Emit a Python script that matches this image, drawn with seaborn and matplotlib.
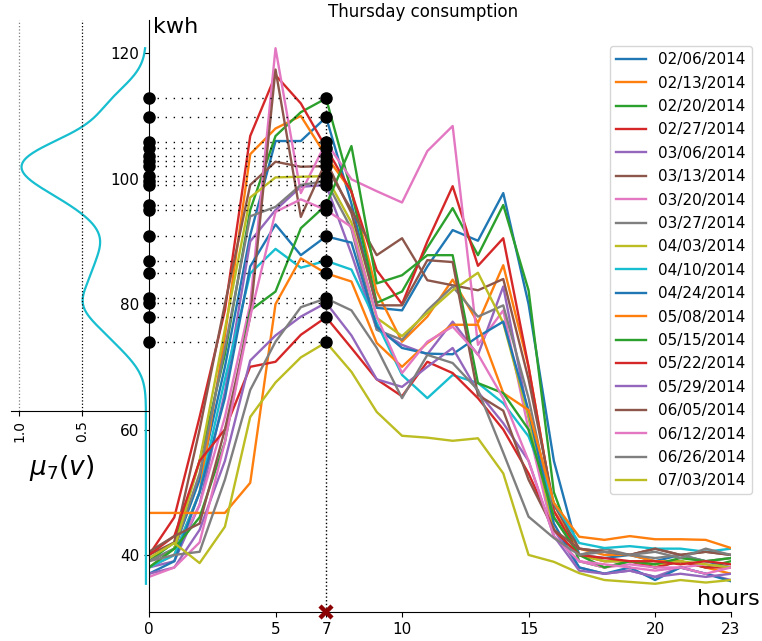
import numpy as np
import pandas as pd
import matplotlib
matplotlib.use("Agg")
import matplotlib.pyplot as plt
import seaborn as sns

hours = list(range(24))
dates = ["02/06/2014", "02/13/2014", "02/20/2014", "02/27/2014", "03/06/2014",
         "03/13/2014", "03/20/2014", "03/27/2014", "04/03/2014", "04/10/2014",
         "04/24/2014", "05/08/2014", "05/15/2014", "05/22/2014", "05/29/2014",
         "06/05/2014", "06/12/2014", "06/26/2014", "07/03/2014"]

d0206 = [39, 41, 52, 70, 91, 106, 106, 109.8, 96, 79.4, 79.0, 86, 91.8, 90.1, 97.7, 80, 55, 40, 39.5, 40, 39, 40, 39, 38]
d0213 = [38, 40, 50, 75, 103.9, 108, 110, 103.6, 98, 82, 74, 78, 83.9, 77, 86.2, 70, 47, 41, 40, 40, 39, 39, 38, 37]
d0220 = [39, 42, 55, 72, 95, 106.8, 110.6, 112.8, 98, 80.2, 82, 89, 95.3, 87.8, 95.8, 82.2, 50, 39, 38, 39, 38, 39, 38, 39]
d0227 = [40, 46, 62, 79, 106.8, 116.5, 112, 104.9, 97.9, 85.4, 80, 90, 98.8, 86.1, 90.5, 70, 47, 40, 39, 39, 38, 39, 38, 38]
d0306 = [38, 39, 48, 66, 90, 95, 98.7, 99.0, 88, 76, 73.5, 72, 77.2, 71.9, 82.8, 62, 44, 38, 37, 37.5, 36.5, 38, 37, 36]
d0313 = [40, 42, 60, 80, 99, 102.7, 101.9, 102.0, 95, 87.8, 90.5, 83.8, 83, 82.2, 84, 68, 48, 41, 40.5, 40, 41, 40, 40.5, 40]
d0320 = [38, 40, 48, 62, 80, 120.8, 97.7, 105.8, 99.9, 98, 96.2, 104.4, 108.4, 73.5, 79, 60, 43, 39, 38, 38.5, 38, 38, 38.5, 38]
d0327 = [39, 41, 53, 73, 94, 95.5, 99, 99.6, 92, 75.9, 74.3, 79, 82.8, 78, 79.8, 65, 46, 40, 41, 40, 39.5, 40, 39, 39.5]
d0403 = [38, 41, 55, 76, 97, 100.2, 100.3, 100.4, 93, 77.8, 74.9, 78.6, 82.2, 85.0, 77, 62, 44, 40, 39, 39, 38.5, 39, 38.5, 38]
d0410 = [38, 40, 50, 68, 84.9, 88.8, 85.8, 86.9, 85.5, 77, 68.7, 65.0, 68.7, 67.4, 64.2, 58.9, 48.3, 41.9, 41.1, 41.4, 41, 41, 40.5, 41]
d0424 = [37, 39, 50, 65, 86, 92.7, 87.8, 90.8, 89.8, 76.4, 73, 72.1, 72.0, 74.8, 77.2, 63, 45, 38, 37, 38, 36, 38, 37, 35.8]
d0508 = [46.7, 46.7, 46.7, 46.7, 51.5, 80, 87.3, 84.9, 83.6, 73.8, 70.0, 73.8, 76.7, 76.7, 65.8, 63.1, 48.3, 42.9, 42.4, 43.0, 42.5, 42.5, 42.4, 41.1]
d0515 = [38, 41, 46, 58, 79, 82, 92.1, 95.8, 105.2, 83.3, 84.6, 87.8, 87.8, 67.4, 65.8, 60, 46, 40, 38, 39, 38.5, 39.5, 39, 39.5]
d0522 = [40, 43, 55, 60, 70.0, 70.8, 75.1, 77.9, 73, 68, 65.3, 70.8, 69.0, 65, 60, 53, 44, 40, 39.5, 39, 39, 38.5, 39, 38.5]
d0529 = [37, 38, 44, 55, 71, 75, 78, 80.2, 75, 68.0, 66.8, 70, 73, 66, 61, 55, 43, 37.5, 37, 37.5, 36.5, 37, 36.5, 37]
d0605 = [40.5, 43, 45, 60, 78, 117.4, 93.9, 102.8, 94.5, 79.8, 79.8, 87.0, 86.7, 65.5, 63, 52, 44, 41, 40.5, 40, 41, 40, 40.5, 40]
d0612 = [36.5, 38, 42, 58, 78, 94.7, 96.7, 95.0, 92.3, 78, 69.0, 74, 76.4, 72, 65, 55, 43, 39, 38.5, 38, 37.5, 38, 37, 38]
d0626 = [39, 40, 40.5, 52, 66.3, 74, 79.5, 80.9, 79, 73, 65.0, 71.9, 70.6, 66.3, 56.3, 46.1, 42.7, 40, 40.5, 40, 40.5, 39.5, 41, 40]
d0703 = [39.5, 41.9, 38.7, 44.5, 62, 67.5, 71.5, 73.9, 69.2, 62.8, 59, 58.7, 58.2, 58.6, 53.0, 40, 38.9, 37.1, 36.0, 35.7, 35.4, 36.0, 35.6, 36.0]

series = [d0206, d0213, d0220, d0227, d0306, d0313, d0320, d0327, d0403, d0410,
          d0424, d0508, d0515, d0522, d0529, d0605, d0612, d0626, d0703]

sel_hour = 7
xticks = [0, 5, 7, 10, 15, 20, 23]
yticks = [40, 60, 80, 100, 120]

df = pd.DataFrame({
    "hour": hours * len(series),
    "kwh": np.concatenate(series),
    "date": np.repeat(dates, len(hours)),
})

fig = plt.figure(figsize=(7.62, 6.41), dpi=100)
W, H = 762, 641
ylo, yhi = 30.9, 125.3
ax = fig.add_axes([149 / W, 29 / H, 582 / W, 592 / H])
pal = sns.color_palette("tab10", len(dates))
sns.lineplot(data=df, x="hour", y="kwh", hue="date", hue_order=dates,
             palette=pal, ax=ax, linewidth=1.7)
handles, labels = ax.get_legend_handles_labels()
ax.get_legend().remove()

ax.set_xlim(0, 23)
ax.set_ylim(ylo, yhi)
ax.set_xticks(xticks)
ax.set_yticks(yticks)
ax.tick_params(labelsize=11)
ax.set_xlabel("")
ax.set_ylabel("")
for s in ["top", "right"]:
    ax.spines[s].set_visible(False)

v7 = np.array([s[sel_hour] for s in series])
ax.hlines(v7, 0, sel_hour, colors="k", linestyles=(0, (1, 4.8)), linewidth=1.0, zorder=3)
ax.vlines(sel_hour, ylo, v7.max(), colors="k", linestyles=":", linewidth=1.0, zorder=3)
ax.plot(np.zeros_like(v7), v7, "o", color="k", ms=8, clip_on=False, zorder=6)
ax.plot(np.full_like(v7, sel_hour), v7, "o", color="k", ms=8, clip_on=False, zorder=6)
ax.plot([sel_hour], [ylo], marker="x", color="#8b0000", ms=9, mew=3.2, clip_on=False, zorder=7)

ax.legend(handles, labels, loc="upper right", bbox_to_anchor=(752 / W, 1 - 46 / H),
          bbox_transform=fig.transFigure, fontsize=11, borderaxespad=0, labelspacing=0.55)

fig.text(423 / W, 1 - 12 / H, "Thursday consumption", ha="center", va="center", fontsize=12)
fig.text(153 / W, 1 - 27 / H, "kwh", ha="left", va="center", fontsize=16)
fig.text(760 / W, 1 - 599 / H, "hours", ha="right", va="center", fontsize=16)

# density inset
allv = np.concatenate(series)
grid = np.linspace(allv.min(), allv.max(), 400)
bw = 3.2
dens = np.exp(-0.5 * ((grid[:, None] - v7[None, :]) / bw) ** 2).sum(axis=1)
dens = dens / dens.max() * 0.98

ax2 = fig.add_axes([11 / W, 29 / H, 138 / W, 592 / H])
ax2.set_facecolor("none")
ax2.set_ylim(ylo, yhi)
ax2.set_xlim(1.063, -0.024)
sns.lineplot(x=dens, y=grid, orient="y", sort=False, ax=ax2, color="#17becf", linewidth=1.6)
for s in ["top", "right", "left"]:
    ax2.spines[s].set_visible(False)
ax2.spines["bottom"].set_position(("data", 63))
ax2.set_yticks([])
ax2.set_xticks([1.0, 0.5])
ax2.set_xticklabels(["1.0", "0.5"], rotation=90)
ax2.tick_params(labelsize=10)
ax2.set_xlabel("")
ax2.set_ylabel("")
fr = (63 - ylo) / (yhi - ylo)
ax2.axvline(1.0, ymin=fr, ymax=1, color="gray", ls=":", lw=0.9)
ax2.axvline(0.5, ymin=fr, ymax=1, color="k", ls=":", lw=0.9)
fig.text(62 / W, 1 - 468 / H, r"$\mu_7(v)$", ha="center", va="center", fontsize=19)

fig.savefig("out.png", dpi=100)
